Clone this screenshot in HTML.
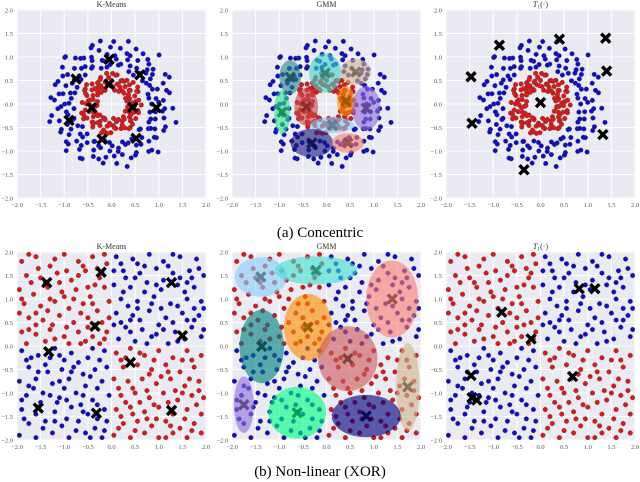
<!DOCTYPE html>
<html><head><meta charset="utf-8">
<style>
html,body{margin:0;padding:0;background:#fff;}
svg{display:block;font-family:"Liberation Serif",serif;}
</style></head>
<body>
<svg id="fig" width="640" height="482" viewBox="0 0 640 482" xmlns="http://www.w3.org/2000/svg">
<text x="320" y="237" text-anchor="middle" font-size="15" fill="#000">(a) Concentric</text>
<text x="320" y="476" text-anchor="middle" font-size="15" fill="#000">(b) Non-linear (XOR)</text>
</svg>
<script>
// ---------- data ----------
const ticks = [-2.0,-1.5,-1.0,-0.5,0.0,0.5,1.0,1.5,2.0];
const tickLabels = ["\u22122.0","\u22121.5","\u22121.0","\u22120.5","0.0","0.5","1.0","1.5","2.0"];

// concentric dataset (polar: angle deg, radius)
const innerAng = [3,8,14,19,25,29,36,41,47,52,57,63,68,74,79,85,90,96,101,106,112,117,123,128,134,139,144,150,155,161,166,172,177,183,188,193,199,204,210,215,221,226,231,237,242,248,253,259,264,269,275,280,286,291,297,302,308,313,318,324,329,335,340,346,351,356,11,33,60,88,115,142,170,197,224,251,278,305,332,358];
const innerRad = [.45,.58,.38,.52,.62,.41,.49,.35,.56,.47,.6,.4,.53,.44,.63,.37,.5,.57,.42,.48,.61,.36,.54,.46,.59,.39,.51,.64,.43,.55,.4,.49,.62,.45,.34,.57,.5,.42,.6,.47,.38,.55,.63,.44,.52,.36,.58,.48,.41,.61,.46,.53,.39,.56,.5,.43,.64,.37,.54,.47,.6,.42,.51,.58,.35,.49,.33,.66,.31,.65,.32,.67,.3,.66,.34,.65,.31,.64,.33,.63];
const inner2Ang = [6,17,27,38,50,61,71,82,93,104,115,126,137,147,158,169,180,191,201,212,223,234,245,256,266,277,288,299,310,320,331,342,353,22,45,77,99,131,153,186,208,240,262,294,316,348,66,120,174,228];
const inner2Rad = [.52,.4,.6,.47,.36,.55,.44,.62,.39,.5,.57,.43,.48,.35,.59,.46,.53,.41,.63,.38,.56,.49,.34,.61,.45,.51,.37,.58,.42,.54,.47,.6,.4,.32,.65,.3,.66,.33,.64,.31,.67,.34,.63,.36,.62,.35,.55,.45,.5,.58];
const outerAng = [0,4,7,11,15,18,22,26,29,33,37,40,44,48,51,55,59,62,66,70,73,77,81,84,88,92,95,99,103,106,110,114,117,121,125,128,132,136,139,143,147,150,154,158,161,165,169,172,176,180,183,187,191,194,198,202,205,209,213,216,220,224,227,231,235,238,242,246,249,253,257,260,264,268,271,275,279,282,286,290,293,297,301,304,308,312,315,319,323,326,330,334,337,341,345,348,352,356];
const outerRad = [.85,1.1,.95,1.25,.8,1.02,1.18,.9,1.3,.98,.82,1.15,1.05,.88,1.22,.93,1.08,.78,1.28,1.0,
 1.12,.87,1.2,.96,1.33,.84,1.06,.92,1.17,.79,1.27,1.01,.89,1.14,.97,1.24,.83,1.09,.91,1.3,
 .94,1.19,.81,1.04,1.26,.9,1.13,.86,1.21,.99,1.07,.8,1.29,.95,1.16,.88,1.03,1.23,.85,1.11,
 1.25,.92,1.08,.82,1.18,.97,1.32,.87,1.05,.93,1.2,.8,1.14,1.0,.89,1.27,.95,1.1,.84,1.22,
 .9,1.16,1.02,.86,1.28,.96,1.12,.81,1.19,.94,1.06,.88,1.24,.98,1.15,.83,1.09,1.3];
const outer2Ang = [2,9,14,20,25,31,36,42,47,53,58,64,69,75,80,86,91,97,102,108,113,119,124,130,135,141,146,152,157,163,168,174,179,185,190,196,201,207,212,218,223,229,234,240,245,251,256,262,267,273,278,284,289,295,300,306,311,317,322,328,333,339,344,350,355,46,134,226,314,100];
const outer2Rad = [1.0,.8,1.2,.92,1.35,.86,1.07,.98,1.16,.77,1.26,.9,1.1,1.38,.84,1.03,1.21,.79,.95,1.31,1.08,.87,1.17,.99,1.4,.83,1.12,.94,1.23,.81,1.05,1.29,.9,1.14,.97,1.36,.85,1.19,1.01,.78,1.25,.93,1.09,1.33,.88,1.18,.96,1.27,.82,1.11,1.02,1.37,.91,1.2,.86,1.06,1.3,.8,1.15,.98,1.24,.89,1.42,.95,1.13,1.45,1.4,1.38,1.42,1.36];

// XOR dataset, flat [x,y,...]
const xorRedTL = [-1.9,1.8,-1.6,1.9,-1.3,1.7,-1.0,1.95,-0.7,1.8,-0.4,1.9,-0.1,1.75,-1.8,1.5,-1.5,1.45,-1.15,1.55,-0.85,1.4,-0.55,1.6,-0.25,1.45,-1.95,1.2,-1.65,1.1,-1.35,1.25,-1.05,1.15,-0.75,1.2,-0.45,1.05,-0.15,1.25,-1.85,0.9,-1.5,0.85,-1.2,0.95,-0.9,0.8,-0.6,0.9,-0.3,0.75,-0.05,0.95,-1.75,0.6,-1.45,0.55,-1.1,0.65,-0.8,0.5,-0.5,0.6,-0.2,0.5,-1.9,0.3,-1.6,0.25,-1.3,0.35,-1.0,0.2,-0.7,0.3,-0.4,0.2,-0.1,0.3,-1.8,0.05,-1.4,0.1,-0.9,0.05,-0.55,0.1,-0.25,0.05,-1.55,1.65,-0.95,1.6,-0.35,1.3,-1.25,0.45,-0.65,0.7,-1.7,1.35,-0.15,1.95,-1.1,1.35,-0.5,0.4,-1.95,0.7,-0.8,1.0,-1.35,0.75,-0.3,1.65,-1.6,0.45,-0.05,0.6];
const xorRedBR = [0.1,-0.15,0.4,-0.05,0.7,-0.2,1.0,-0.1,1.3,-0.25,1.6,-0.1,1.9,-0.2,0.25,-0.45,0.55,-0.4,0.85,-0.5,1.15,-0.4,1.45,-0.55,1.75,-0.45,0.05,-0.7,0.35,-0.75,0.65,-0.7,0.95,-0.8,1.25,-0.7,1.55,-0.85,1.85,-0.75,0.2,-1.05,0.5,-1.0,0.8,-1.1,1.1,-1.0,1.4,-1.15,1.7,-1.05,1.95,-1.1,0.1,-1.35,0.4,-1.3,0.7,-1.4,1.0,-1.3,1.3,-1.45,1.6,-1.35,1.9,-1.45,0.25,-1.65,0.55,-1.6,0.85,-1.7,1.15,-1.6,1.45,-1.75,1.75,-1.65,0.05,-1.9,0.4,-1.95,0.7,-1.85,1.0,-1.95,1.3,-1.85,1.6,-1.95,1.9,-1.85,0.3,-0.25,0.9,-0.3,1.5,-0.3,0.15,-0.9,0.75,-0.95,1.35,-0.95,1.8,-1.25,0.6,-1.2,1.2,-1.2,0.2,-1.5,0.95,-1.55,1.55,-1.55,0.5,-1.8];
const xorRedExtra = [-1.75,1.95,-1.2,1.85,-0.6,1.7,-0.2,1.55,-1.4,1.35,-0.7,1.5,-1.9,1.0,-1.0,1.05,-0.4,0.9,-1.6,0.7,-0.95,0.4,-0.35,0.45,-1.2,0.15,-0.65,0.05,-1.75,0.35,-0.15,0.15,-1.3,1.0,-0.5,1.25,0.2,-0.3,0.8,-0.6,1.2,-0.55,1.7,-0.3,0.45,-0.9,1.05,-0.65,1.65,-0.7,0.3,-1.2,0.9,-1.25,1.5,-1.0,1.85,-0.95,0.15,-1.75,0.75,-1.55,1.25,-1.7,1.7,-1.8,0.6,-0.15,1.15,-1.95,0.45,-1.45];
const xorBlueTR = [0.1,1.9,0.45,1.85,0.8,1.95,1.1,1.8,1.45,1.9,1.8,1.85,0.25,1.6,0.6,1.55,0.95,1.65,1.3,1.55,1.65,1.6,1.95,1.5,0.05,1.3,0.4,1.25,0.75,1.35,1.05,1.2,1.4,1.3,1.75,1.25,0.2,1.0,0.55,0.95,0.9,1.05,1.25,0.9,1.6,1.0,1.9,0.95,0.1,0.7,0.45,0.65,0.8,0.75,1.15,0.6,1.5,0.7,1.85,0.65,0.3,0.4,0.65,0.35,1.0,0.45,1.35,0.3,1.7,0.4,0.15,0.15,0.5,0.1,0.85,0.2,1.2,0.05,1.55,0.15,1.9,0.2,0.3,1.45,1.2,1.7,0.7,1.15,1.55,1.15,0.35,0.85,1.05,0.8,1.75,0.8,0.6,0.55,1.3,0.5,1.95,0.35,0.95,0.25,0.2,0.5,1.45,1.45,0.05,1.6,1.85,1.65,0.55,1.75,1.1,1.4,0.4,0.3,1.6,0.55];
const xorBlueBL = [-1.9,-0.1,-1.55,-0.2,-1.2,-0.05,-0.85,-0.15,-0.5,-0.25,-0.15,-0.1,-1.75,-0.45,-1.4,-0.4,-1.05,-0.5,-0.7,-0.35,-0.35,-0.5,-1.95,-0.75,-1.6,-0.7,-1.25,-0.8,-0.9,-0.7,-0.55,-0.85,-0.2,-0.75,-1.8,-1.05,-1.45,-1.0,-1.1,-1.1,-0.75,-1.0,-0.4,-1.15,-0.05,-1.05,-1.9,-1.35,-1.55,-1.3,-1.2,-1.4,-0.85,-1.3,-0.5,-1.45,-0.15,-1.35,-1.75,-1.65,-1.4,-1.6,-1.05,-1.7,-0.7,-1.6,-0.35,-1.75,-1.95,-1.9,-1.6,-1.95,-1.25,-1.85,-0.9,-1.95,-0.55,-1.85,-0.2,-1.95,-1.3,-0.25,-0.6,-0.6,-1.5,-1.2,-0.3,-1.25,-1.0,-0.3,-1.7,-0.25,-0.95,-1.55,-0.25,-0.3,-1.35,-0.55,-0.65,-1.25,-1.85,-1.55,-0.1,-1.6,-1.15,-1.2,-0.45,-0.65,-1.65,-0.9,-0.8,-0.45,-1.0,-0.9,-0.3,-1.55,-1.45,-1.75,-0.6,-1.05];
const xorBlueExtra = [0.2,1.75,0.7,1.7,1.3,1.95,1.7,1.45,0.5,1.45,0.95,1.3,1.6,1.35,0.25,1.15,0.85,0.9,1.4,0.85,0.05,0.45,0.55,0.8,1.1,0.35,1.75,0.55,0.75,0.05,1.4,0.1,1.95,0.8,0.4,0.55,-1.8,-0.3,-1.1,-0.2,-0.4,-0.05,-1.55,-0.55,-0.85,-0.55,-0.1,-0.45,-1.75,-0.85,-1.1,-0.75,-0.3,-0.9,-1.3,-1.05,-0.6,-1.4,-1.9,-1.15,-0.95,-1.15,-1.6,-1.45,-0.15,-1.8,-0.75,-1.8,-1.2,-1.6,-0.45,-1.95];

// cluster centres
const kmConcX = [-0.05,0.6,-0.75,-0.05,-0.42,0.45,0.95,-0.9,-0.2,0.52];
const kmConcY = [0.95,0.62,0.53,0.42,-0.08,-0.07,-0.08,-0.35,-0.75,-0.73];
const t1ConcX = [-1.47,-0.87,0.4,1.38,1.4,0.0,-1.45,1.32,-0.35];
const t1ConcY = [0.58,1.25,1.38,1.4,0.7,0.03,-0.41,-0.65,-1.4];
const kmXorX = [-1.37,-0.22,1.27,-0.35,1.5,-1.33,0.4,-1.55,-0.32,1.27];
const kmXorY = [1.35,1.57,1.35,0.42,0.22,-0.12,-0.35,-1.32,-1.43,-1.37];
const t1XorX = [0.82,1.15,-0.82,-0.2,-1.47,0.68,-1.45,-1.35];
const t1XorY = [1.22,1.22,0.72,0.15,-0.63,-0.65,-1.1,-1.15];

// GMM components
const gmmConcCx = [-0.77,-0.03,0.62,-0.94,-0.43,0.41,0.84,0.12,-0.31,0.45];
const gmmConcCy = [0.57,0.66,0.68,-0.17,-0.06,0.06,-0.09,-0.45,-0.83,-0.83];
const gmmConcRx = [0.23,0.34,0.32,0.17,0.25,0.19,0.3,0.47,0.45,0.34];
const gmmConcRy = [0.36,0.42,0.28,0.47,0.4,0.32,0.47,0.17,0.3,0.21];
const gmmConcCol = ["#2a8a8a","#40d8cc","#d2b48c","#2ee68a","#c94a4a","#ff8c00","#9370db","#87cefa","#1c1c80","#fa8072"];
const gmmXorCx = [-1.39,-0.22,1.39,-0.39,-1.37,0.45,1.72,-1.75,-0.62,0.84];
const gmmXorCy = [1.47,1.61,1.0,0.4,-0.01,-0.27,-0.87,-1.25,-1.42,-1.49];
const gmmXorRx = [0.55,0.87,0.55,0.51,0.47,0.63,0.25,0.21,0.61,0.73];
const gmmXorRy = [0.42,0.3,0.82,0.71,0.78,0.69,0.93,0.6,0.55,0.45];
const gmmXorCol = ["#87cefa","#40e0d0","#fa8072","#ff8c00","#008080","#cd5c5c","#d2b48c","#9370db","#00ff7f","#000080"];

// ---------- drawing ----------
const NS = "http://www.w3.org/2000/svg";
const svg = document.getElementById("fig");
const RED = "#e61414", BLUE = "#0c0cd0";
function mk(tag, attrs, parent){
  const e = document.createElementNS(NS, tag);
  for (const k in attrs) e.setAttribute(k, attrs[k]);
  (parent||svg).appendChild(e);
  return e;
}
const W = 189, H = 188;
function panel(px, py, name, titleHtml){
  const g = mk("g", {});
  
  
  const sx = v => px + (v + 2) / 4 * W;
  const sy = v => py + (2 - v) / 4 * H;
  const bg = mk("rect", {x:px, y:py, width:W, height:H, fill:"#eaeaf2"}, g);
  
  
  ticks.forEach((t,i)=>{
    const gl = mk("line", {x1:sx(t), x2:sx(t), y1:py, y2:py+H, stroke:"#fff", "stroke-width":1}, g);
    
    
    const gh = mk("line", {x1:px, x2:px+W, y1:sy(t), y2:sy(t), stroke:"#fff", "stroke-width":1}, g);
    
    
    const xl = mk("text", {x:sx(t), y:py+H+9, "text-anchor":"middle", "font-size":6.5, fill:"#555"}, g);
    xl.textContent = tickLabels[i];
    
    
    const yl = mk("text", {x:px-4, y:sy(t)+2.3, "text-anchor":"end", "font-size":6.5, fill:"#555"}, g);
    yl.textContent = tickLabels[i];
    
    
  });
  const tt = mk("text", {x:px+W/2, y:py-3, "text-anchor":"middle", "font-size":8, fill:"#333"}, g);
  tt.innerHTML = titleHtml;
  
  
  const clip = "c"+name;
  const cp = mk("clipPath", {id:clip}, g);
  mk("rect", {x:px, y:py, width:W, height:H}, cp);
  const plot = mk("g", {"clip-path":"url(#"+clip+")"}, g);
  return {g:plot, sx, sy};
}
function dot(p, x, y, col){
  const c = mk("circle", {cx:p.sx(x), cy:p.sy(y), r:2.3, fill:col, stroke:"#444", "stroke-width":0.4}, p.g);
  
  
}
function polarDots(p, ang, rad, col){
  for (let i=0;i<Math.min(ang.length,rad.length);i++){
    const a = ang[i]*Math.PI/180;
    dot(p, rad[i]*Math.cos(a), rad[i]*Math.sin(a), col);
  }
}
function concDots(p){
  polarDots(p, outerAng, outerRad, BLUE);
  polarDots(p, outer2Ang, outer2Rad, BLUE);
  polarDots(p, innerAng, innerRad, RED);
  polarDots(p, inner2Ang, inner2Rad, RED);
}
function flatDots(p, arr, col){
  for (let i=0;i+1<arr.length;i+=2) dot(p, arr[i], arr[i+1], col);
}
function xorDots(p){
  flatDots(p, xorRedTL, RED);
  flatDots(p, xorRedBR, RED);
  flatDots(p, xorRedExtra, RED);
  flatDots(p, xorBlueTR, BLUE);
  flatDots(p, xorBlueBL, BLUE);
  flatDots(p, xorBlueExtra, BLUE);
}
function cross(p, x, y, col, name){
  const cx = p.sx(x), cy = p.sy(y), s = 4.5;
  const path = mk("path", {d:`M${cx-s},${cy-s}L${cx+s},${cy+s}M${cx-s},${cy+s}L${cx+s},${cy-s}`, stroke:col, "stroke-width":3.4, "stroke-linecap":"butt", fill:"none"}, p.g);
  
  
}
function centres(p, xs, ys){
  for (let i=0;i<Math.min(xs.length,ys.length);i++) cross(p, xs[i], ys[i], "#000", "cluster-centre");
}
function gmm(p, cx, cy, rx, ry, cols){
  for (let i=0;i<cx.length;i++){
    const e = mk("ellipse", {cx:p.sx(cx[i]), cy:p.sy(cy[i]), rx:rx[i]/4*W, ry:ry[i]/4*H, fill:cols[i], "fill-opacity":0.62}, p.g);
    
    
  }
  for (let i=0;i<cx.length;i++){
    cross(p, cx[i], cy[i], cols[i], "gmm-centre");
    const last = p.g.lastChild;
    last.setAttribute("stroke-opacity", 0.9);
    last.style.filter = "brightness(0.6)";
  }
}
const xs = [17, 232, 446];
const t1 = '<tspan font-style="italic">T</tspan><tspan font-size="5.5" dy="1.5">1</tspan><tspan dy="-1.5">(\u00b7)</tspan>';

let p = panel(xs[0], 10, "kmeans-concentric", "K-Means");
concDots(p); centres(p, kmConcX, kmConcY);
p = panel(xs[1], 10, "gmm-concentric", "GMM");
concDots(p); gmm(p, gmmConcCx, gmmConcCy, gmmConcRx, gmmConcRy, gmmConcCol);
p = panel(xs[2], 10, "t1-concentric", t1);
concDots(p); centres(p, t1ConcX, t1ConcY);

p = panel(xs[0], 252, "kmeans-xor", "K-Means");
xorDots(p); centres(p, kmXorX, kmXorY);
p = panel(xs[1], 252, "gmm-xor", "GMM");
xorDots(p); gmm(p, gmmXorCx, gmmXorCy, gmmXorRx, gmmXorRy, gmmXorCol);
p = panel(xs[2], 252, "t1-xor", t1);
xorDots(p); centres(p, t1XorX, t1XorY);
</script>
</body></html>
